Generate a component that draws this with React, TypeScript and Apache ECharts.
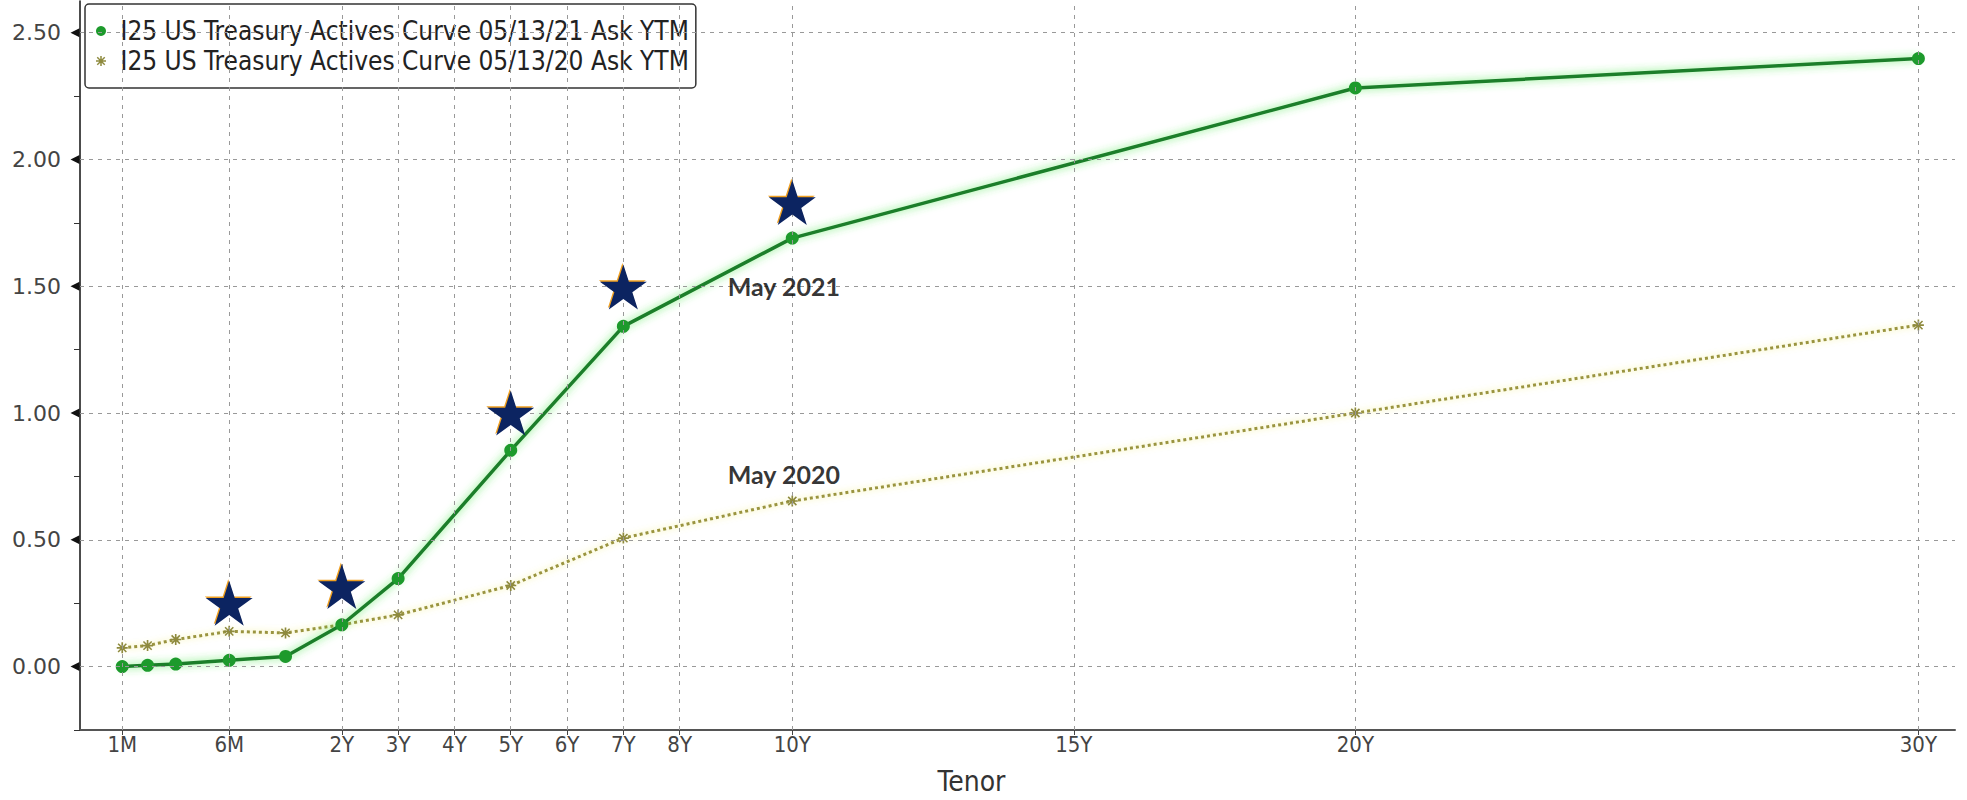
import React, { useEffect, useRef } from 'react';
import * as echarts from 'echarts';

// ---- data ----
const tenors = ['1M', '2M', '3M', '6M', '1Y', '2Y', '3Y', '5Y', '7Y', '10Y', '20Y', '30Y'];
// position of each tenor on the (Bloomberg-style) tenor axis
const tenorAxisPos = [-1.9, -1.45, -0.95, 0, 1, 2, 3, 5, 7, 10, 20, 30];
const yields2021 = [0.0, 0.005, 0.01, 0.025, 0.04, 0.165, 0.347, 0.853, 1.342, 1.69, 2.282, 2.398];
const yields2020 = [0.074, 0.083, 0.107, 0.139, 0.133, 0.165, 0.204, 0.32, 0.507, 0.653, 1.0, 1.347];

const xTickLabels = ['1M', '6M', '2Y', '3Y', '4Y', '5Y', '6Y', '7Y', '8Y', '10Y', '15Y', '20Y', '30Y'];
const xTickPos = [-1.9, 0, 2, 3, 4, 5, 6, 7, 8, 10, 15, 20, 30];
const yTickValues = [0, 0.5, 1, 1.5, 2, 2.5];
const yAllTicks = [-0.25, 0, 0.25, 0.5, 0.75, 1, 1.25, 1.5, 1.75, 2, 2.25, 2.5];

const starTenorPos = [0, 2, 5, 7, 10];
const starYields = [0.25, 0.316, 1.0, 1.497, 1.83];

const annotationTexts = ['May 2021', 'May 2020'];
const annotationAt = [[9.85, 1.5], [9.85, 0.76]];

const seriesNames = [
  'I25 US Treasury Actives Curve 05/13/21 Ask YTM',
  'I25 US Treasury Actives Curve 05/13/20 Ask YTM',
];

const X_MIN = -2.65;
const X_MAX = 30.65;

const STAR =
  'path://M100,0L122.45,69.1L195.1,69.1L136.33,111.8L158.78,180.9L100,138.2L41.22,180.9L63.67,111.8L4.9,69.1L77.55,69.1Z';
const ASTERISK =
  'path://M0,8.5L20,8.5L20,11.5L0,11.5Z M1.5,3.5L3.5,1.5L18.5,16.5L16.5,18.5Z M16.5,1.5L18.5,3.5L3.5,18.5L1.5,16.5Z M8.5,0L11.5,0L11.5,20L8.5,20Z';

const COND = '"DejaVu Sans Condensed", "DejaVu Sans", sans-serif';

function buildOption(): any {
  const xLabel = (v: number) => {
    const i = xTickPos.findIndex((p) => Math.abs(p - v) < 1e-6);
    return i >= 0 ? xTickLabels[i] : '';
  };
  return {
    animation: false,
    backgroundColor: '#ffffff',
    grid: { left: 80, right: 12, top: 1, bottom: 62, containLabel: false },
    legend: {
      show: true,
      left: 85,
      top: 4,
      orient: 'vertical',
      selectedMode: false,
      data: [
        { name: seriesNames[0], icon: 'circle' },
        { name: seriesNames[1], icon: ASTERISK },
      ],
      itemWidth: 29,
      itemHeight: 10,
      itemGap: 2,
      padding: [13, 7, 13, 11],
      backgroundColor: '#ffffff',
      borderColor: '#333333',
      borderWidth: 1.5,
      borderRadius: 4,
      textStyle: { fontFamily: COND, fontSize: 26, color: '#222222', lineHeight: 28 },
    },
    xAxis: {
      type: 'value',
      min: X_MIN,
      max: X_MAX,
      name: 'Tenor',
      nameLocation: 'middle',
      nameGap: 37,
      nameTextStyle: { fontFamily: COND, fontSize: 28, color: '#333333', padding: [0, 92, 0, 0] },
      axisLine: { show: true, onZero: false, lineStyle: { color: '#555555', width: 2 } },
      axisTick: { show: true, customValues: xTickPos, length: 5, lineStyle: { color: '#444444' } },
      axisLabel: {
        customValues: xTickPos,
        formatter: xLabel,
        fontFamily: COND,
        fontSize: 22,
        color: '#444444',
        margin: 3,
      },
      splitLine: { show: false },
    },
    yAxis: {
      type: 'value',
      min: -0.25,
      max: 2.625,
      axisLine: { show: true, onZero: false, lineStyle: { color: '#111111', width: 1.5 } },
      axisTick: { show: true, customValues: yAllTicks, length: 6, lineStyle: { color: '#333333' } },
      axisLabel: {
        customValues: yTickValues,
        formatter: (v: number) => v.toFixed(2),
        fontFamily: '"DejaVu Sans", sans-serif',
        fontSize: 22,
        color: '#444444',
        margin: 19,
      },
      splitLine: { show: false },
    },
    series: [
      {
        name: 'grid',
        type: 'line',
        data: [],
        silent: true,
        z: 1,
        markLine: {
          silent: true,
          symbol: ['none', 'none'],
          label: { show: false },
          lineStyle: { color: '#999999', type: [4, 5], width: 1 },
          emphasis: { disabled: true },
          data: [
            ...yTickValues.map((v) => ({ yAxis: v })),
            ...xTickPos.map((v) => ({ xAxis: v })),
          ],
        },
      },
      {
        name: seriesNames[1],
        type: 'line',
        data: tenorAxisPos.map((p, i) => [p, yields2020[i]]),
        symbol: ASTERISK,
        symbolSize: 11,
        itemStyle: { color: '#8e8a3e' },
        lineStyle: {
          color: '#9a9440',
          width: 3,
          type: [3, 3],
          shadowColor: 'rgba(235,230,90,0.8)',
          shadowBlur: 6,
        },
        z: 3,
      },
      {
        name: seriesNames[0],
        type: 'line',
        data: tenorAxisPos.map((p, i) => [p, yields2021[i]]),
        symbol: 'circle',
        symbolSize: 13,
        itemStyle: { color: '#1d9a2c' },
        lineStyle: {
          color: '#1e7e2c',
          width: 3.5,
          shadowColor: 'rgba(60,230,60,0.75)',
          shadowBlur: 8,
        },
        z: 4,
      },
      {
        name: 'ymarks',
        type: 'scatter',
        data: yTickValues.map((v) => [X_MIN, v]),
        symbol: 'triangle',
        symbolRotate: 90,
        symbolSize: [9, 9],
        symbolOffset: [-5, 0],
        itemStyle: { color: '#111111', opacity: 1 },
        clip: false,
        silent: true,
        z: 5,
      },
      {
        name: 'starShadow',
        type: 'scatter',
        data: starTenorPos.map((p, i) => [p, starYields[i]]),
        symbol: STAR,
        symbolSize: [47, 45],
        symbolOffset: [-1, -1.5],
        itemStyle: { color: '#f0a020', opacity: 1 },
        silent: true,
        z: 6,
      },
      {
        name: 'stars',
        type: 'scatter',
        data: starTenorPos.map((p, i) => [p, starYields[i]]),
        symbol: STAR,
        symbolSize: [47, 45],
        itemStyle: { color: '#0c2461', opacity: 1 },
        silent: true,
        z: 7,
      },
      {
        name: 'notes',
        type: 'scatter',
        data: annotationAt.map((p, i) => ({ value: p, name: annotationTexts[i] })),
        symbolSize: 1,
        itemStyle: { color: 'rgba(0,0,0,0)' },
        silent: true,
        label: {
          show: true,
          position: 'inside',
          formatter: '{b}',
          fontFamily: 'Lato, "Open Sans", sans-serif',
          fontWeight: 'bold',
          fontSize: 25,
          color: '#000000',
        },
        z: 8,
      },
    ],
  };
}

export default function App() {
  const ref = useRef<HTMLDivElement>(null);
  useEffect(() => {
    if (!ref.current) return;
    const chart = echarts.init(ref.current, null, { renderer: 'svg' });
    chart.setOption(buildOption());
    return () => chart.dispose();
  }, []);
  return (
    <div
      ref={ref}
      style={{ position: 'absolute', left: 0, top: 0, width: 1967, height: 800, background: '#ffffff' }}
    />
  );
}
